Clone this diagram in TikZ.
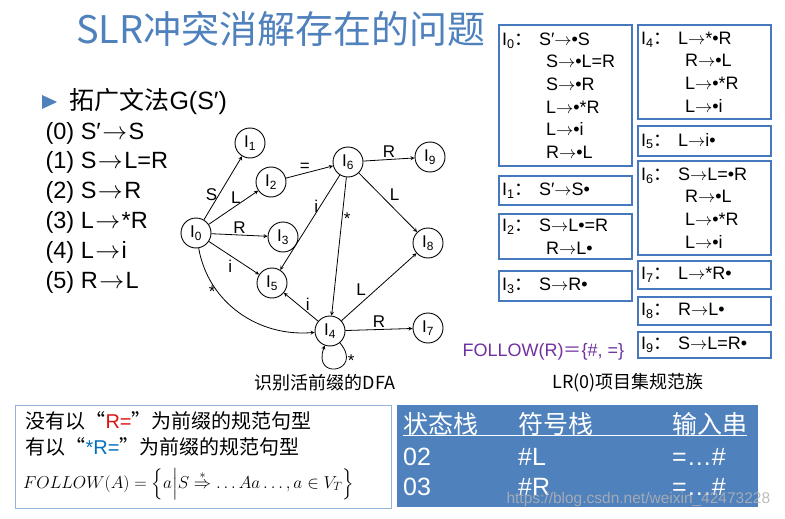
\documentclass[tikz,border=0pt]{standalone}
\usepackage{amsmath}
\usepackage{fontspec}
\setmainfont{Liberation Sans}
\newfontfamily\cjk{Noto Sans CJK SC}

\definecolor{titelblau}{RGB}{79,129,189}
\definecolor{boxblau}{RGB}{70,120,190}
\definecolor{rahmenhell}{RGB}{150,180,215}
\definecolor{tabblau}{RGB}{79,129,189}
\definecolor{lila}{RGB}{112,48,160}
\definecolor{rot}{RGB}{220,20,20}
\definecolor{hellblau}{RGB}{0,112,192}

\newcommand{\grammfont}{\fontsize{23.5}{27}\selectfont}
\newcommand{\itemfont}{\fontsize{18}{22.6}\selectfont}
\newcommand{\knotenfont}{\fontsize{17}{20}\selectfont}
\newcommand{\pf}{\ensuremath{\rightarrow}}
\newcommand{\gpf}{\hspace{1.5pt}\ensuremath{\rightarrow}\hspace{1.5pt}}
\newcommand{\lab}[1]{\makebox[37pt][l]{I\textsubscript{#1}{\cjk ：}}}
\newcommand{\weiter}{\hspace*{44pt}}

\begin{document}
\begin{tikzpicture}[x=1pt, y=1pt, >=stealth,
    zustand/.style={circle, draw, line width=0.9pt, minimum size=30pt, inner sep=0pt, font=\knotenfont},
    kante/.style={->, line width=0.8pt},
    marke/.style={font=\knotenfont, inner sep=1.5pt},
    itembox/.style={draw=boxblau, line width=2.5pt, anchor=north west, outer sep=0pt, inner sep=3pt, text width=127pt, align=left, font=\itemfont},
    weiss/.style={text=white, anchor=west, inner sep=0pt}]

    % Hintergrund
    \useasboundingbox (0,0) rectangle (785,-519);
    \fill[white] (0,0) rectangle (785,-519);

    % Titel
    \node[font=\cjk\fontsize{38}{44}\selectfont, text=titelblau] (titel) at (281,-29) {SLR冲突消解存在的问题};

    % Grammatik
    \fill[titelblau] (42,-95) -- (57,-102) -- (42,-109) -- cycle;
    \node[anchor=west, font=\fontsize{25}{29}\selectfont] (kopf) at (66,-102) {{\cjk 拓广文法}G(S′)};
    \foreach \n/\links/\rechts in {0/S′/S, 1/S/L=R, 2/S/R, 3/L/*R, 4/L/i, 5/R/L} {
      \node[anchor=west, font=\grammfont] (g\n) at (42,{-133-29.8*\n}) {(\n) \links\gpf\rechts};
    }

    % Zustaende des DFA
    \node[zustand] (i0) at (196,-233) {I\textsubscript{0}};
    \node[zustand] (i1) at (250,-143) {I\textsubscript{1}};
    \node[zustand] (i2) at (271,-182) {I\textsubscript{2}};
    \node[zustand] (i3) at (283,-237) {I\textsubscript{3}};
    \node[zustand] (i4) at (330,-331) {I\textsubscript{4}};
    \node[zustand] (i5) at (272,-283) {I\textsubscript{5}};
    \node[zustand] (i6) at (348,-162) {I\textsubscript{6}};
    \node[zustand] (i7) at (428,-328) {I\textsubscript{7}};
    \node[zustand] (i8) at (428,-243) {I\textsubscript{8}};
    \node[zustand] (i9) at (430,-157) {I\textsubscript{9}};

    % Uebergaenge
    \draw[kante] (i0) -- node[marke, pos=0.4, left] (m01) {S} (i1);
    \draw[kante] (i0) -- node[marke, pos=0.55, above] (m02) {L} (i2);
    \draw[kante] (i0) -- node[marke, above] (m03) {R} (i3);
    \draw[kante] (i0) -- node[marke, below left] (m05) {i} (i5);
    \draw[kante] (i0) to[out=-80, in=185] node[marke, pos=0.3, left] (m04) {*} (i4);
    \draw[kante] (i2) -- node[marke, pos=0.4, above] (m26) {=} (i6);
    \draw[kante] (i6) -- node[marke, above] (m69) {R} (i9);
    \draw[kante] (i6) -- node[marke, above right] (m68) {L} (i8);
    \draw[kante] (i6) -- node[marke, pos=0.33, left] (m65) {i} (i5);
    \draw[kante] (i6) -- node[marke, pos=0.3, right] (m64) {*} (i4);
    \draw[kante] (i4) -- node[marke, pos=0.3, above] (m45) {i} (i5);
    \draw[kante] (i4) -- node[marke, pos=0.35, above left] (m48) {L} (i8);
    \draw[kante] (i4) -- node[marke, above] (m47) {R} (i7);
    \draw[kante] (i4) to[out=-50, in=-110, min distance=38pt] node[marke, pos=0.25, right] (m44) {*} (i4);

    % Beschriftungen
    \node[font=\cjk\fontsize{18}{22}\selectfont] (dfa) at (325,-383) {识别活前缀的DFA};
    \node[font=\cjk\fontsize{18}{22}\selectfont, anchor=west] (lr) at (549,-383) {LR(0)项目集规范族};

    % LR(0)-Itemmengen
    \node[itembox, minimum height=141pt] (k0) at (499,-25) {\lab{0}S′\pf•S\\ \weiter S\pf•L=R\\ \weiter S\pf•R\\ \weiter L\pf•*R\\ \weiter L\pf•i\\ \weiter R\pf•L};
    \node[itembox, minimum height=29pt] (k1) at (499,-176) {\lab{1}S′\pf S•};
    \node[itembox, minimum height=45pt] (k2) at (499,-214) {\lab{2}S\pf L•=R\\ \weiter R\pf L•};
    \node[itembox, minimum height=30pt] (k3) at (499,-271) {\lab{3}S\pf R•};
    \node[itembox, minimum height=94pt] (k4) at (638,-25) {\lab{4}L\pf*•R\\ \weiter R\pf•L\\ \weiter L\pf•*R\\ \weiter L\pf•i};
    \node[itembox, minimum height=30pt] (k5) at (638,-126) {\lab{5}L\pf i•};
    \node[itembox, minimum height=94pt] (k6) at (638,-161) {\lab{6}S\pf L=•R\\ \weiter R\pf•L\\ \weiter L\pf•*R\\ \weiter L\pf•i};
    \node[itembox, minimum height=28pt] (k7) at (638,-261) {\lab{7}L\pf*R•};
    \node[itembox, minimum height=28pt] (k8) at (638,-297) {\lab{8}R\pf L•};
    \node[itembox, minimum height=26pt] (k9) at (638,-332) {\lab{9}S\pf L=R•};

    % FOLLOW-Menge
    \node[font=\fontsize{18}{22}\selectfont, text=lila, anchor=west] (follow) at (459,-352) {FOLLOW(R){\cjk ＝}\{\#, =\}};

    % Kasten unten links
    \draw[rahmenhell, line width=1pt] (15,-405) rectangle (391,-508);
    \node[anchor=west, font=\cjk\fontsize{20}{24}\selectfont] (satz1) at (22,-421) {没有以“\textcolor{rot}{\rmfamily R=}”为前缀的规范句型};
    \node[anchor=west, font=\cjk\fontsize{20}{24}\selectfont] (satz2) at (22,-447) {有以“\textcolor{hellblau}{\rmfamily *R=}”为前缀的规范句型};
    \node[anchor=west, font=\fontsize{16.5}{20}\selectfont, inner sep=0pt] (formel) at (23,-484) {$FOLLOW(A)=\left\{a\middle|S\overset{*}{\Rightarrow}\dots Aa\dots,a\in V_T\right\}$};

    % Analysetabelle
    \fill[tabblau] (397,-405) rectangle (758,-507);
    \node[weiss, font=\cjk\fontsize{25}{30}\selectfont] (h1) at (403,-424) {状态栈};
    \node[weiss, font=\cjk\fontsize{25}{30}\selectfont] (h2) at (518,-424) {符号栈};
    \node[weiss, font=\cjk\fontsize{25}{30}\selectfont] (h3) at (672,-424) {输入串};
    \draw[white, line width=1.2pt] (h1.south west) -- (h1.south west -| h3.south east);
    \foreach \z/\sym/\y in {02/\#L/-457, 03/\#R/-487} {
      \node[weiss, font=\fontsize{25}{30}\selectfont] (s\z) at (403,\y) {\z};
      \node[weiss, font=\fontsize{25}{30}\selectfont] (y\z) at (518,\y) {\sym};
      \node[weiss, font=\fontsize{25}{30}\selectfont] (e\z) at (672,\y) {=…\#};
    }

    % Wasserzeichen
    \node[anchor=west, font=\fontsize{15.5}{18}\selectfont, text=gray!60, opacity=0.85] (wz) at (503,-499) {https://blog.csdn.net/weixin\_42473228};
\end{tikzpicture}
\end{document}
